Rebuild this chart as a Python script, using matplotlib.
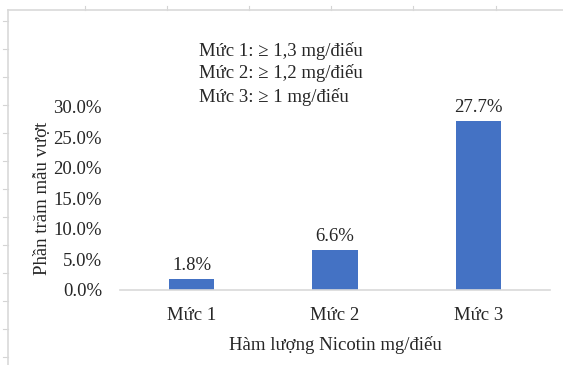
import matplotlib.pyplot as plt
from matplotlib.lines import Line2D
from matplotlib.ticker import PercentFormatter

plt.rcParams['font.family'] = ['Liberation Serif', 'DejaVu Serif']

levels = ['Mức 1', 'Mức 2', 'Mức 3']
percent_over = [1.8, 6.6, 27.7]
level_notes = ['Mức 1: ≥ 1,3 mg/điếu', 'Mức 2: ≥ 1,2 mg/điếu', 'Mức 3: ≥ 1 mg/điếu']

W, H = 563, 365
fig = plt.figure(figsize=(W / 100, H / 100), dpi=100)

def fx(px):
    return px / W

def fy(py):
    return 1 - py / H

# sheet grid peeking out around the chart frame
grid_c = '#d4d4d4'
for y in range(21, 365, 28):
    fig.add_artist(Line2D([fx(3), fx(8)], [fy(y), fy(y)], color=grid_c, lw=0.8))
for x in [85, 167, 249, 331, 413, 496]:
    fig.add_artist(Line2D([fx(x), fx(x)], [fy(6), fy(10)], color=grid_c, lw=0.8))
# chart frame
fig.add_artist(Line2D([fx(8), fx(8)], [fy(10), 0], color='#d9d9d9', lw=1.2))
fig.add_artist(Line2D([fx(8), 1], [fy(10), fy(10)], color='#d9d9d9', lw=1.2))

ax = fig.add_axes([fx(120), fy(290), fx(550) - fx(120), (290 - 107) / H])

fs = 13.5
bars = ax.bar(levels, percent_over, width=0.314, color='#4472C4')
for rect, v in zip(bars, percent_over):
    ax.text(rect.get_x() + rect.get_width() / 2, v + 0.8, f'{v:.1f}%',
            ha='center', va='bottom', fontsize=fs, color='#262626')

ax.set_xlim(-0.5, 2.5)
ax.set_ylim(0, 30)
ax.set_yticks(range(0, 31, 5))
ax.yaxis.set_major_formatter(PercentFormatter(decimals=1))
ax.tick_params(axis='both', length=0, labelsize=fs, labelcolor='#262626')
ax.tick_params(axis='y', pad=13)
ax.tick_params(axis='x', pad=12)

for side in ['top', 'right', 'left']:
    ax.spines[side].set_visible(False)
ax.spines['bottom'].set_color('#d9d9d9')
ax.spines['bottom'].set_linewidth(1.2)

ax.set_ylabel('Phần trăm mẫu vượt', fontsize=fs, color='#262626', labelpad=2)
ax.set_xlabel('Hàm lượng Nicotin mg/điếu', fontsize=fs, color='#262626', labelpad=9)

for yy, note in zip([51, 73, 97], level_notes):
    fig.text(fx(199), fy(yy), note, ha='left', va='center', fontsize=fs, color='#262626')

fig.savefig('out.png', dpi=100, facecolor='white')
